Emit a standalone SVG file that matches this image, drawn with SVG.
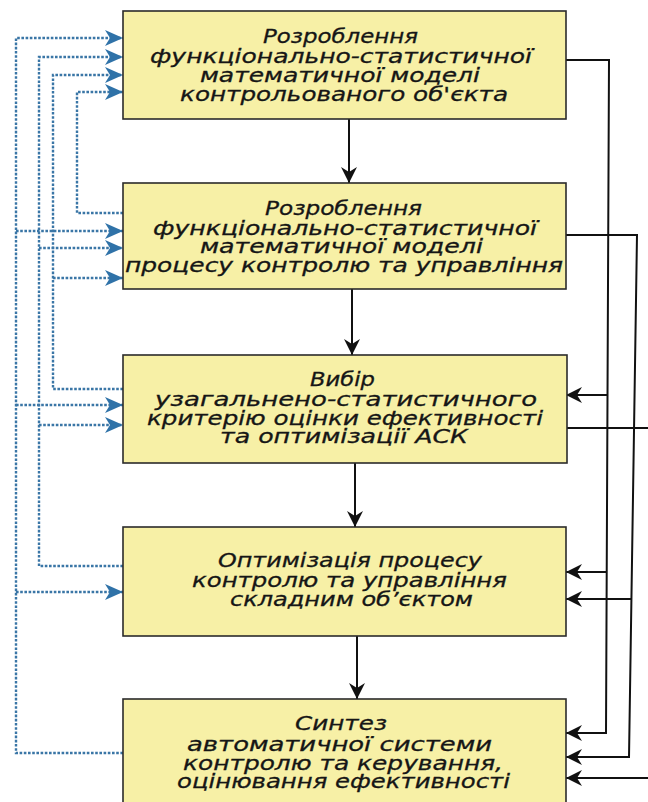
<svg xmlns="http://www.w3.org/2000/svg" width="648" height="802" viewBox="0 0 648 802">
  <defs>
    <style>
      .box { fill: #f7f0a6; stroke: #2b2b2b; stroke-width: 1.6; }
      .lbl { font-family: "DejaVu Sans", "Noto Sans", sans-serif; font-style: italic; font-size: 19px; fill: #161616; stroke: #161616; stroke-width: 0.3; text-anchor: middle; }
      .flow { fill: none; stroke: #111; stroke-width: 2; }
      .fb { fill: none; stroke: #111; stroke-width: 2; }
      .dot { fill: none; stroke: #3a76a6; stroke-width: 2.4; stroke-dasharray: 2.6 1.6; }
    </style>
    <marker id="ah" markerUnits="userSpaceOnUse" markerWidth="18" markerHeight="18" refX="16" refY="8" orient="auto">
      <path d="M0,0 L16,8 L0,16 L5,8 Z" fill="#111"/>
    </marker>
    <marker id="ahb" markerUnits="userSpaceOnUse" markerWidth="20" markerHeight="18" refX="18" refY="8" orient="auto">
      <path d="M0,0 L18,8 L0,16 L5,8 Z" fill="#2f72a8"/>
    </marker>
  </defs>

  <g id="connectors">
    <!-- main flow -->
    <line class="flow" x1="349" y1="119" x2="349" y2="183" marker-end="url(#ah)"/>
    <line class="flow" x1="352" y1="289" x2="352" y2="355" marker-end="url(#ah)"/>
    <line class="flow" x1="355" y1="463" x2="355" y2="527" marker-end="url(#ah)"/>
    <line class="flow" x1="357" y1="636" x2="357" y2="699" marker-end="url(#ah)"/>

    <!-- right feedforward lines -->
    <polyline class="fb" points="566,60 609,60 606,733 566,733" marker-end="url(#ah)"/>
    <line class="fb" x1="608" y1="395" x2="566" y2="395" marker-end="url(#ah)"/>
    <line class="fb" x1="607" y1="572" x2="566" y2="572" marker-end="url(#ah)"/>
    <polyline class="fb" points="566,235 637,235 629,757 566,757" marker-end="url(#ah)"/>
    <line class="fb" x1="631" y1="599" x2="566" y2="599" marker-end="url(#ah)"/>
    <line class="fb" x1="567" y1="428" x2="648" y2="428"/>
    <line class="fb" x1="648" y1="778" x2="566" y2="778" marker-end="url(#ah)"/>

    <!-- left dotted feedback lines -->
    <polyline class="dot" points="123,753 16,753 16,38 123,38" marker-end="url(#ahb)"/>
    <line class="dot" x1="16" y1="231" x2="123" y2="231" marker-end="url(#ahb)"/>
    <line class="dot" x1="16" y1="405" x2="123" y2="405" marker-end="url(#ahb)"/>
    <line class="dot" x1="16" y1="592" x2="123" y2="592" marker-end="url(#ahb)"/>

    <polyline class="dot" points="123,566 39,566 39,57 123,57" marker-end="url(#ahb)"/>
    <line class="dot" x1="39" y1="248" x2="123" y2="248" marker-end="url(#ahb)"/>
    <line class="dot" x1="39" y1="425" x2="123" y2="425" marker-end="url(#ahb)"/>

    <polyline class="dot" points="123,389 53,389 53,75 123,75" marker-end="url(#ahb)"/>
    <line class="dot" x1="53" y1="278" x2="123" y2="278" marker-end="url(#ahb)"/>

    <polyline class="dot" points="123,213 77,213 77,92 123,92" marker-end="url(#ahb)"/>
  </g>

  <g id="node1">
    <rect class="box" x="123" y="11" width="443" height="108"/>
    <text class="lbl" x="340.5" y="43" textLength="155" lengthAdjust="spacingAndGlyphs">Розроблення</text>
    <text class="lbl" x="341" y="63" textLength="382" lengthAdjust="spacingAndGlyphs">функціонально-статистичної</text>
    <text class="lbl" x="340" y="82" textLength="280" lengthAdjust="spacingAndGlyphs">математичної моделі</text>
    <text class="lbl" x="344" y="101" textLength="328" lengthAdjust="spacingAndGlyphs">контрольованого об'єкта</text>
  </g>

  <g id="node2">
    <rect class="box" x="123" y="183" width="443" height="106"/>
    <text class="lbl" x="343.5" y="215" textLength="157" lengthAdjust="spacingAndGlyphs">Розроблення</text>
    <text class="lbl" x="345" y="235" textLength="384" lengthAdjust="spacingAndGlyphs">функціонально-статистичної</text>
    <text class="lbl" x="341.5" y="253" textLength="283" lengthAdjust="spacingAndGlyphs">математичної моделі</text>
    <text class="lbl" x="344" y="272" textLength="438" lengthAdjust="spacingAndGlyphs">процесу контролю та управління</text>
  </g>

  <g id="node3">
    <rect class="box" x="123" y="355" width="444" height="108"/>
    <text class="lbl" x="342.5" y="386" textLength="65" lengthAdjust="spacingAndGlyphs">Вибір</text>
    <text class="lbl" x="346" y="406" textLength="382" lengthAdjust="spacingAndGlyphs">узагальнено-статистичного</text>
    <text class="lbl" x="345" y="425" textLength="396" lengthAdjust="spacingAndGlyphs">критерію оцінки ефективності</text>
    <text class="lbl" x="344" y="443" textLength="248" lengthAdjust="spacingAndGlyphs">та оптимізації АСК</text>
  </g>

  <g id="node4">
    <rect class="box" x="123" y="527" width="443" height="109"/>
    <text class="lbl" x="350" y="567" textLength="264" lengthAdjust="spacingAndGlyphs">Оптимізація процесу</text>
    <text class="lbl" x="349.5" y="587" textLength="315" lengthAdjust="spacingAndGlyphs">контролю та управління</text>
    <text class="lbl" x="351.5" y="606" textLength="243" lengthAdjust="spacingAndGlyphs">складним об’єктом</text>
  </g>

  <g id="node5">
    <rect class="box" x="123" y="699" width="443" height="120"/>
    <text class="lbl" x="341" y="730" textLength="92" lengthAdjust="spacingAndGlyphs">Синтез</text>
    <text class="lbl" x="339.5" y="751" textLength="305" lengthAdjust="spacingAndGlyphs">автоматичної системи</text>
    <text class="lbl" x="343" y="770" textLength="320" lengthAdjust="spacingAndGlyphs">контролю та керування,</text>
    <text class="lbl" x="343.5" y="788" textLength="333" lengthAdjust="spacingAndGlyphs">оцінювання ефективності</text>
  </g>
</svg>
